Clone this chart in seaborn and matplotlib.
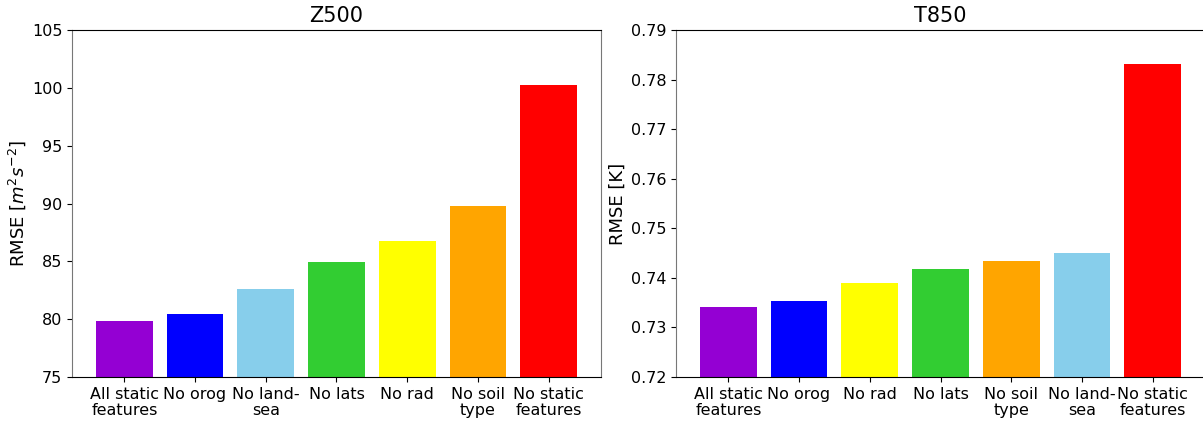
import matplotlib
matplotlib.use("Agg")
import matplotlib.pyplot as plt
import seaborn as sns
import pandas as pd

z500_labels = ["All static\nfeatures", "No orog", "No land-\nsea", "No lats", "No rad", "No soil\ntype", "No static\nfeatures"]
z500_values = [79.8, 80.45, 82.65, 84.9, 86.8, 89.75, 100.25]
z500_colors = ["#9400D3", "#0000FF", "#87CEEB", "#32CD32", "#FFFF00", "#FFA500", "#FF0000"]

t850_labels = ["All static\nfeatures", "No orog", "No rad", "No lats", "No soil\ntype", "No land-\nsea", "No static\nfeatures"]
t850_values = [0.7342, 0.7354, 0.7389, 0.7417, 0.7435, 0.7451, 0.7831]
t850_colors = ["#9400D3", "#0000FF", "#FFFF00", "#32CD32", "#FFA500", "#87CEEB", "#FF0000"]

plt.rcParams['font.family'] = ['DejaVu Sans']
W, H = 1203, 422
fig = plt.figure(figsize=(W/100, H/100), dpi=100)
ax1 = fig.add_axes([72/W, 1-377/H, 529/W, 347/H])
ax2 = fig.add_axes([676/W, 1-377/H, 529/W, 347/H])

def draw(ax, labels, values, colors, title, ylabel, ylim, yticks):
    df = pd.DataFrame({"label": labels, "value": values})
    sns.barplot(data=df, x="label", y="value", hue="label", order=labels, hue_order=labels,
                palette=colors, width=0.8, saturation=1, legend=False, ax=ax)
    ax.set_xlim(-0.74, 6.74)
    ax.set_ylim(*ylim)
    ax.set_yticks(yticks)
    ax.set_title(title, fontsize=15)
    ax.set_ylabel(ylabel, fontsize=13, labelpad=3)
    ax.set_xlabel("")
    ax.tick_params(axis='both', labelsize=11.5)
    for t in ax.get_xticklabels():
        t.set_linespacing(1.1)
    for name, s in ax.spines.items():
        s.set_visible(True)
        s.set_color("#777777" if name in ("left", "right") else "black")

draw(ax1, z500_labels, z500_values, z500_colors, "Z500", r"RMSE [$m^2 s^{-2}$]", (75, 105),
     [75, 80, 85, 90, 95, 100, 105])
draw(ax2, t850_labels, t850_values, t850_colors, "T850", "RMSE [K]", (0.72, 0.79),
     [0.72, 0.73, 0.74, 0.75, 0.76, 0.77, 0.78, 0.79])

fig.savefig("out.png", dpi=100)
